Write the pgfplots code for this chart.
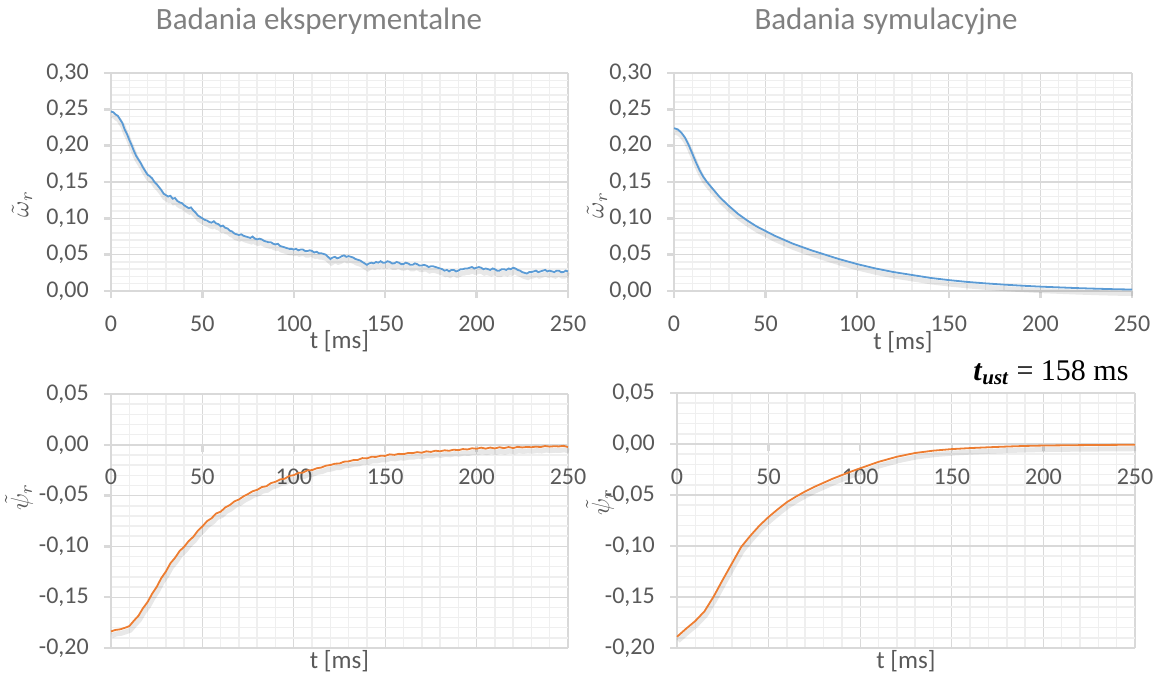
\documentclass[border=0pt]{standalone}
\usepackage{pgfplots}
\pgfplotsset{compat=1.18}
\usepackage{pgfplotstable}
\usepackage{fontspec}
\setmainfont{Carlito}
\newfontfamily\timesfont{Liberation Serif}

\definecolor{txtgray}{HTML}{595959}
\definecolor{ttlgray}{HTML}{808080}
\definecolor{majgrid}{HTML}{D9D9D9}
\definecolor{mingrid}{HTML}{EFEFEF}
\definecolor{xlblue}{HTML}{5B9BD5}
\definecolor{xlorange}{HTML}{ED7D31}

% measured rotor speed error
\pgfplotstableread{
t w
0 0.247
1.25 0.246
2.5 0.243
3.75 0.241
5 0.236
6.25 0.231
7.5 0.222
8.75 0.216
10 0.208
11.25 0.201
12.5 0.193
13.75 0.186
15 0.181
16.25 0.176
17.5 0.170
18.75 0.165
20 0.160
21.25 0.158
22.5 0.155
23.75 0.150
25 0.147
26.25 0.143
27.5 0.139
28.75 0.134
30 0.132
31.25 0.130
32.5 0.131
33.75 0.127
35 0.128
36.25 0.124
37.5 0.122
38.75 0.121
40 0.118
41.25 0.116
42.5 0.114
43.75 0.115
45 0.111
46.25 0.108
47.5 0.104
48.75 0.102
50 0.100
51.25 0.098
52.5 0.097
53.75 0.095
55 0.094
56.25 0.096
57.5 0.093
58.75 0.092
60 0.089
61.25 0.090
62.5 0.087
63.75 0.086
65 0.083
66.25 0.082
67.5 0.079
68.75 0.078
70 0.077
71.25 0.078
72.5 0.076
73.75 0.075
75 0.074
76.25 0.073
77.5 0.075
78.75 0.072
80 0.071
81.25 0.072
82.5 0.071
83.75 0.069
85 0.068
86.25 0.067
87.5 0.067
88.75 0.065
90 0.064
91.25 0.065
92.5 0.062
93.75 0.061
95 0.060
96.25 0.059
97.5 0.058
98.75 0.058
100 0.057
101.25 0.058
102.5 0.056
103.75 0.057
105 0.057
106.25 0.055
107.5 0.055
108.75 0.056
110 0.055
111.25 0.053
112.5 0.054
113.75 0.052
115 0.052
116.25 0.051
117.5 0.050
118.75 0.047
120 0.044
121.25 0.046
122.5 0.047
123.75 0.045
125 0.046
126.25 0.048
127.5 0.049
128.75 0.047
130 0.048
131.25 0.047
132.5 0.046
133.75 0.044
135 0.043
136.25 0.042
137.5 0.040
138.75 0.038
140 0.036
141.25 0.038
142.5 0.039
143.75 0.038
145 0.040
146.25 0.039
147.5 0.041
148.75 0.039
150 0.039
151.25 0.041
152.5 0.040
153.75 0.038
155 0.038
156.25 0.040
157.5 0.039
158.75 0.037
160 0.037
161.25 0.039
162.5 0.038
163.75 0.036
165 0.036
166.25 0.038
167.5 0.037
168.75 0.035
170 0.035
171.25 0.036
172.5 0.035
173.75 0.033
175 0.034
176.25 0.034
177.5 0.033
178.75 0.032
180 0.031
181.25 0.030
182.5 0.028
183.75 0.029
185 0.027
186.25 0.029
187.5 0.029
188.75 0.027
190 0.028
191.25 0.030
192.5 0.030
193.75 0.031
195 0.031
196.25 0.032
197.5 0.033
198.75 0.031
200 0.032
201.25 0.033
202.5 0.032
203.75 0.030
205 0.031
206.25 0.030
207.5 0.029
208.75 0.031
210 0.030
211.25 0.028
212.5 0.028
213.75 0.030
215 0.030
216.25 0.029
217.5 0.031
218.75 0.030
220 0.032
221.25 0.031
222.5 0.029
223.75 0.028
225 0.026
226.25 0.025
227.5 0.024
228.75 0.026
230 0.026
231.25 0.027
232.5 0.028
233.75 0.026
235 0.027
236.25 0.028
237.5 0.029
238.75 0.027
240 0.028
241.25 0.027
242.5 0.026
243.75 0.028
245 0.028
246.25 0.026
247.5 0.026
248.75 0.028
250 0.027
}\expw

% simulated rotor speed error
\pgfplotstableread{
t w
0 0.224
2 0.2225
4 0.218
6 0.211
8 0.201
10 0.189
12 0.177
14 0.166
16 0.157
18 0.150
20 0.144
25 0.129
30 0.117
35 0.106
40 0.097
45 0.089
50 0.0825
55 0.076
60 0.0705
65 0.065
70 0.0605
75 0.056
80 0.052
85 0.048
90 0.044
95 0.0405
100 0.037
110 0.031
120 0.026
130 0.022
140 0.018
150 0.015
160 0.0125
170 0.0105
180 0.0088
190 0.0073
200 0.006
210 0.005
220 0.004
230 0.0032
240 0.0025
250 0.002
}\simw

% measured rotor flux error
\pgfplotstableread{
t p
0 -0.1837
2.5 -0.1822
5 -0.1816
7.5 -0.1802
10 -0.1785
12.5 -0.1732
15 -0.1683
17.5 -0.1608
20 -0.1548
22.5 -0.1466
25 -0.1398
27.5 -0.1312
30 -0.1248
32.5 -0.1166
35 -0.1113
37.5 -0.1046
40 -0.1004
42.5 -0.0947
45 -0.0906
47.5 -0.0846
50 -0.0803
52.5 -0.0752
55 -0.0723
57.5 -0.0676
60 -0.0658
62.5 -0.0617
65 -0.0593
67.5 -0.0557
70 -0.0538
72.5 -0.0507
75 -0.0484
77.5 -0.0457
80 -0.0443
82.5 -0.0416
85 -0.0408
87.5 -0.0377
90 -0.0364
92.5 -0.0341
95 -0.0334
97.5 -0.0306
100 -0.0299
102.5 -0.0276
105 -0.0274
107.5 -0.0251
110 -0.0249
112.5 -0.0231
115 -0.0224
117.5 -0.0206
120 -0.0199
122.5 -0.0186
125 -0.0184
127.5 -0.0166
130 -0.0163
132.5 -0.0151
135 -0.0149
137.5 -0.0131
140 -0.0134
142.5 -0.0118
145 -0.0119
147.5 -0.0108
150 -0.0109
152.5 -0.0094
155 -0.0099
157.5 -0.0089
160 -0.0092
162.5 -0.0081
165 -0.0082
167.5 -0.0072
170 -0.0078
172.5 -0.0064
175 -0.0070
177.5 -0.0058
180 -0.0064
182.5 -0.0054
185 -0.0059
187.5 -0.0048
190 -0.0053
192.5 -0.0042
195 -0.0046
197.5 -0.0034
200 -0.0039
202.5 -0.0028
205 -0.0038
207.5 -0.0027
210 -0.0036
212.5 -0.0024
215 -0.0033
217.5 -0.0022
220 -0.0032
222.5 -0.0020
225 -0.0026
227.5 -0.0021
230 -0.0024
232.5 -0.0018
235 -0.0022
237.5 -0.0012
240 -0.0018
242.5 -0.0014
245 -0.0016
247.5 -0.0010
250 -0.0022
}\expp

% simulated rotor flux error
\pgfplotstableread{
t p
0 -0.189
5 -0.181
10 -0.1735
15 -0.164
20 -0.1495
25 -0.133
30 -0.117
35 -0.101
40 -0.090
45 -0.080
50 -0.0715
55 -0.064
60 -0.057
65 -0.0515
70 -0.0465
75 -0.042
80 -0.038
85 -0.034
90 -0.0305
95 -0.027
100 -0.0238
110 -0.0175
120 -0.0125
130 -0.0088
140 -0.0065
150 -0.005
160 -0.004
170 -0.0032
180 -0.0025
190 -0.0019
200 -0.0015
220 -0.0011
250 -0.0007
}\simp

\pgfplotsset{
  panel/.style={
    scale only axis,
    width=457bp,
    xmin=0, xmax=250,
    xtick={0,50,100,150,200,250},
    minor x tick num=4,
    minor y tick num=4,
    axis x line*=middle,
    axis y line*=left,
    axis line style={majgrid, line width=2.5bp, -},
    grid=both,
    major grid style={majgrid, line width=1.2bp},
    minor grid style={mingrid, line width=1.5bp},
    major tick length=7bp,
    minor tick length=0pt,
    every tick/.style={majgrid, line width=2.5bp},
    tick align=outside,
    hide obscured x ticks=false,
    hide obscured y ticks=false,
    /pgf/number format/assume math mode=true,
    ticklabel style={font=\fontsize{24bp}{28bp}\selectfont, text=txtgray, inner sep=0pt},
    yticklabel style={/pgf/number format/fixed, /pgf/number format/fixed zerofill,
      /pgf/number format/precision=2, /pgf/number format/use comma,
      anchor=east, xshift=-15bp},
    xticklabel style={anchor=base, yshift=-33bp},
    xlabel={t [ms]},
    xlabel style={font=\fontsize{25bp}{30bp}\selectfont, text=txtgray, anchor=base, inner sep=0pt},
    clip=false,
  },
  shadow/.style={black, opacity=0.09, line width=5bp, yshift=-4bp, xshift=1bp},
  blueline/.style={xlblue, line width=1.8bp},
  orangeline/.style={xlorange, line width=1.8bp},
}
\tikzset{ylab/.style={rotate=90, text=txtgray, scale=2.5, inner sep=0pt}}

\begin{document}
\begin{tikzpicture}
\path[use as bounding box] (0,0) rectangle (1163bp,-677bp);

% titles
\node[anchor=base, text=ttlgray, font=\fontsize{31bp}{36bp}\selectfont] at (319bp,-29.5bp) {Badania eksperymentalne};
\node[anchor=base, text=ttlgray, font=\fontsize{31bp}{36bp}\selectfont] at (886bp,-29.5bp) {Badania symulacyjne};

% top left: measured speed error
\begin{axis}[panel, at={(111bp,-73bp)}, anchor=north west, height=218bp,
  ymin=0, ymax=0.3, ytick={0,0.05,0.1,0.15,0.2,0.25,0.3},
  xlabel style={at={(axis description cs:0.5,0)}, yshift=-57bp}]
\addplot[shadow] table[x=t, y=w] {\expw};
\addplot[blueline] table[x=t, y=w] {\expw};
\end{axis}

% top right: simulated speed error
\begin{axis}[panel, at={(674bp,-73bp)}, anchor=north west, height=218bp, width=458bp,
  ymin=0, ymax=0.3, ytick={0,0.05,0.1,0.15,0.2,0.25,0.3},
  xlabel style={at={(axis description cs:0.5,0)}, yshift=-58bp}]
\addplot[shadow] table[x=t, y=w] {\simw};
\addplot[blueline] table[x=t, y=w] {\simw};
\end{axis}

% bottom left: measured flux error
\begin{axis}[panel, at={(111bp,-394bp)}, anchor=north west, height=254bp,
  ymin=-0.2, ymax=0.05, ytick={-0.2,-0.15,-0.1,-0.05,0,0.05},
  xlabel style={at={(axis description cs:0.5,0)}, yshift=-20bp}]
\addplot[shadow] table[x=t, y=p] {\expp};
\addplot[orangeline] table[x=t, y=p] {\expp};
\end{axis}

% bottom right: simulated flux error
\begin{axis}[panel, at={(677bp,-393bp)}, anchor=north west, height=255bp, width=458bp,
  ymin=-0.2, ymax=0.05, ytick={-0.2,-0.15,-0.1,-0.05,0,0.05},
  xlabel style={at={(axis description cs:0.5,0)}, yshift=-20bp}]
\addplot[shadow] table[x=t, y=p] {\simp};
\addplot[orangeline] table[x=t, y=p] {\simp};
\end{axis}

% axis titles of the value axes
\node[ylab] at (22bp,-204bp) {$\tilde{\omega}_r$};
\node[ylab] at (597bp,-205bp) {$\tilde{\omega}_r$};
\node[ylab] at (19bp,-497bp) {$\tilde{\psi}_r$};
\node[ylab] at (600bp,-502bp) {$\tilde{\psi}_r$};

% settling time annotation
\node[anchor=base east, font=\timesfont\fontsize{30bp}{36bp}\selectfont] at (1132bp,-380.7bp)
  {\textbf{\textit{t}}\textsubscript{\textbf{\textit{ust}}} = 158 ms};
\end{tikzpicture}
\end{document}
